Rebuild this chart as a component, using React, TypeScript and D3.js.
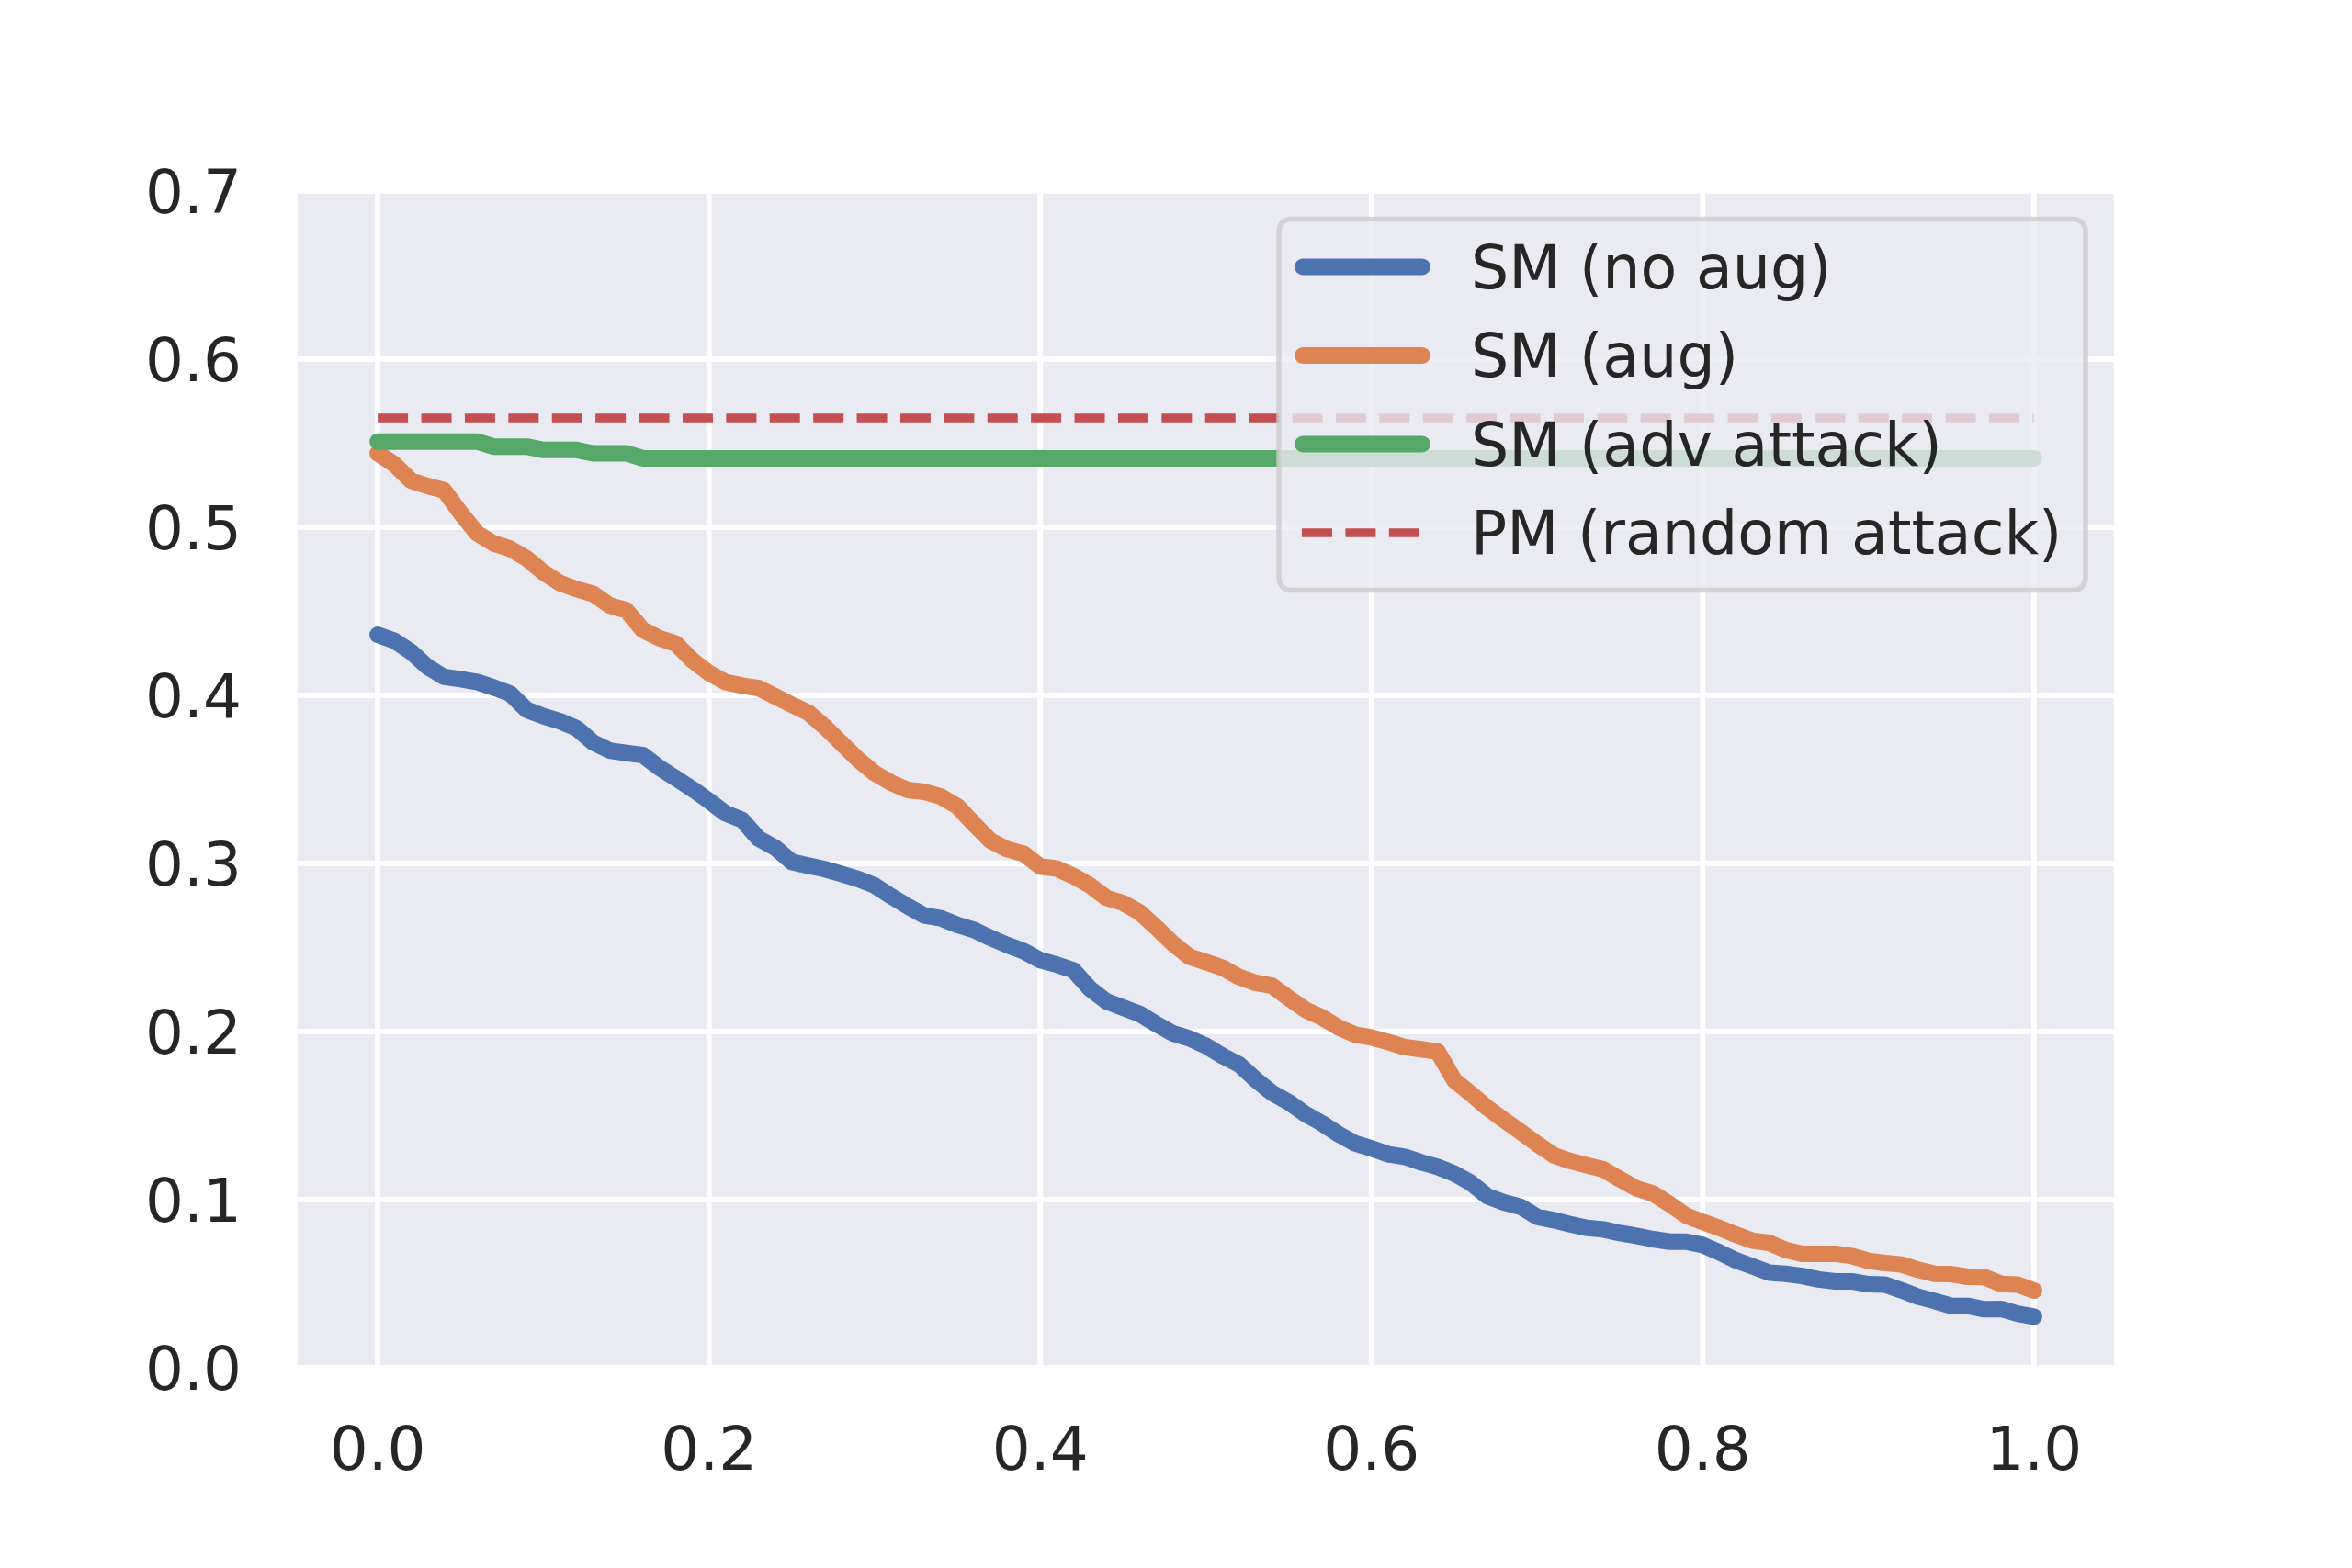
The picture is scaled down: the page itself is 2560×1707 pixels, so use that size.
import * as d3 from 'd3'
import React from 'react'

// x positions of the sampled curves (step 0.01)
const steps = d3.range(101).map((i) => i / 100)

const noAug = [
    0.436, 0.4325, 0.426, 0.417, 0.411, 0.4096, 0.408, 0.4047, 0.401, 0.3914,
    0.3876, 0.3846, 0.3805, 0.372, 0.3672, 0.3657, 0.3645, 0.357, 0.3507, 0.3443,
    0.3373, 0.3298, 0.3259, 0.3148, 0.3094, 0.3009, 0.2987, 0.2966, 0.2938, 0.2908,
    0.2869, 0.2805, 0.2745, 0.269, 0.2674, 0.2635, 0.2605, 0.2557, 0.2515, 0.2478,
    0.2425, 0.2398, 0.2365, 0.2255, 0.218, 0.2142, 0.2105, 0.2045, 0.199, 0.196,
    0.1915, 0.1855, 0.1805, 0.1715, 0.1635, 0.158, 0.151, 0.1455, 0.139, 0.1335,
    0.1305, 0.127, 0.1255, 0.1222, 0.1195, 0.1155, 0.11, 0.102, 0.0984, 0.0958,
    0.0898, 0.0878, 0.0854, 0.0832, 0.0823, 0.0801, 0.0785, 0.0765, 0.075, 0.075,
    0.073, 0.0687, 0.0639, 0.0603, 0.0566, 0.0559, 0.0546, 0.0525, 0.0514, 0.0514,
    0.0497, 0.0495, 0.0461, 0.0423, 0.0397, 0.0368, 0.0368, 0.0348, 0.035, 0.0322,
    0.0304,
]

const aug = [
    0.544, 0.5375, 0.5278, 0.5246, 0.522, 0.5086, 0.4964, 0.4904, 0.4872, 0.4814,
    0.4732, 0.4668, 0.4632, 0.4604, 0.4535, 0.4507, 0.439, 0.434, 0.4308, 0.4208,
    0.4133, 0.4079, 0.4058, 0.4043, 0.3994, 0.3944, 0.3897, 0.3812, 0.3715, 0.3619,
    0.3537, 0.348, 0.3437, 0.3426, 0.3398, 0.334, 0.3235, 0.3135, 0.3085, 0.3058,
    0.2982, 0.297, 0.2925, 0.287, 0.2795, 0.2765, 0.271, 0.262, 0.2525, 0.2445,
    0.2413, 0.238, 0.2325, 0.229, 0.2272, 0.22, 0.213, 0.2085, 0.2025, 0.1982,
    0.1965, 0.1938, 0.1908, 0.1895, 0.188, 0.171, 0.163, 0.1546, 0.1474, 0.1404,
    0.1332, 0.1264, 0.123, 0.1204, 0.118, 0.1122, 0.1067, 0.1036, 0.0973, 0.0905,
    0.0867, 0.0832, 0.0792, 0.0756, 0.0743, 0.0701, 0.0678, 0.0678, 0.0678, 0.0665,
    0.0636, 0.0623, 0.0614, 0.0583, 0.0559, 0.0557, 0.0541, 0.0539, 0.0499, 0.0495,
    0.0459,
]

// adversarial attack curve: only the points where it changes
const advX = [0, 0.06, 0.07, 0.09, 0.1, 0.12, 0.13, 0.15, 0.16, 1.0]
const advY = [0.551, 0.551, 0.548, 0.548, 0.546, 0.546, 0.544, 0.544, 0.541, 0.541]

const randX = [0, 1.0]
const randY = [0.565, 0.565]

const xTicks = [0, 0.2, 0.4, 0.6, 0.8, 1.0]
const yTicks = [0, 0.1, 0.2, 0.3, 0.4, 0.5, 0.6, 0.7]

const labels = ['SM (no aug)', 'SM (aug)', 'SM (adv attack)', 'PM (random attack)']
const colors = ['#4C72B0', '#DD8452', '#55A868', '#C44E52']

const W = 2560
const H = 1707
const frame = { left: 324, right: 2301, top: 208, bottom: 1489 }
const font = '"DejaVu Sans", sans-serif'
const textColor = '#262626'
const tickSize = 66
const legendSize = 65
const lw = 18
const dashLw = 9.5
const dash = '33 14.4'

export default function App() {
    const x = d3.scaleLinear().domain([-0.05, 1.05]).range([321, 2304])
    const y = d3.scaleLinear().domain([0, 0.7]).range([frame.bottom, frame.top])

    const line = d3
        .line<[number, number]>()
        .x((d) => x(d[0]))
        .y((d) => y(d[1]))

    const series = [
        { pts: steps.map((s, i) => [s, noAug[i]] as [number, number]), dashed: false },
        { pts: steps.map((s, i) => [s, aug[i]] as [number, number]), dashed: false },
        { pts: advX.map((s, i) => [s, advY[i]] as [number, number]), dashed: false },
        { pts: randX.map((s, i) => [s, randY[i]] as [number, number]), dashed: true },
    ]

    // legend layout
    const lg = { x: 1392, y: 238.5, w: 878, h: 404, row0: 290.5, rowStep: 96.5 }
    const hx0 = 1418
    const hx1 = 1548
    const tx = 1601

    return (
        <svg
            width={W}
            height={H}
            viewBox={`0 0 ${W} ${H}`}
            style={{ position: 'absolute', left: 0, top: 0, display: 'block', background: '#fff' }}
        >
            <rect x={0} y={0} width={W} height={H} fill="#ffffff" />
            <rect
                x={frame.left}
                y={frame.top}
                width={frame.right - frame.left}
                height={frame.bottom - frame.top}
                fill="#EAEAF2"
            />
            {/* grid */}
            {xTicks.map((t) => (
                <line
                    key={'gx' + t}
                    x1={x(t)}
                    x2={x(t)}
                    y1={frame.top}
                    y2={frame.bottom}
                    stroke="#ffffff"
                    strokeWidth={6}
                />
            ))}
            {yTicks.map((t) => (
                <line
                    key={'gy' + t}
                    x1={frame.left}
                    x2={frame.right}
                    y1={y(t)}
                    y2={y(t)}
                    stroke="#ffffff"
                    strokeWidth={6}
                />
            ))}
            {/* tick labels */}
            {xTicks.map((t) => (
                <text
                    key={'tx' + t}
                    x={x(t)}
                    y={1600}
                    textAnchor="middle"
                    fontFamily={font}
                    fontSize={tickSize}
                    fill={textColor}
                >
                    {d3.format('.1f')(t)}
                </text>
            ))}
            {yTicks.map((t) => (
                <text
                    key={'ty' + t}
                    x={263}
                    y={y(t) + 24}
                    textAnchor="end"
                    fontFamily={font}
                    fontSize={tickSize}
                    fill={textColor}
                >
                    {d3.format('.1f')(t)}
                </text>
            ))}
            {/* curves */}
            <g>
                {series.map((s, i) => (
                    <path
                        key={'s' + i}
                        d={line(s.pts) || ''}
                        fill="none"
                        stroke={colors[i]}
                        strokeWidth={s.dashed ? dashLw : lw}
                        strokeLinecap={s.dashed ? 'butt' : 'round'}
                        strokeLinejoin="round"
                        strokeDasharray={s.dashed ? dash : undefined}
                    />
                ))}
            </g>
            {/* legend */}
            <rect
                x={lg.x}
                y={lg.y}
                width={lg.w}
                height={lg.h}
                rx={13}
                ry={13}
                fill="rgba(234,234,242,0.8)"
                stroke="rgba(204,204,204,0.8)"
                strokeWidth={5.5}
            />
            {labels.map((lab, i) => {
                const ry = lg.row0 + i * lg.rowStep
                const dashed = i === 3
                return (
                    <g key={'lg' + i}>
                        <line
                            x1={dashed ? hx0 - 1 : hx0}
                            x2={dashed ? hx0 - 1 + 33 * 3 + 14.4 * 2 : hx1}
                            y1={ry}
                            y2={ry}
                            stroke={colors[i]}
                            strokeWidth={dashed ? dashLw : lw}
                            strokeLinecap={dashed ? 'butt' : 'round'}
                            strokeDasharray={dashed ? dash : undefined}
                        />
                        <text
                            x={tx}
                            y={ry + 23}
                            fontFamily={font}
                            fontSize={legendSize}
                            fill={textColor}
                        >
                            {lab}
                        </text>
                    </g>
                )
            })}
        </svg>
    )
}
